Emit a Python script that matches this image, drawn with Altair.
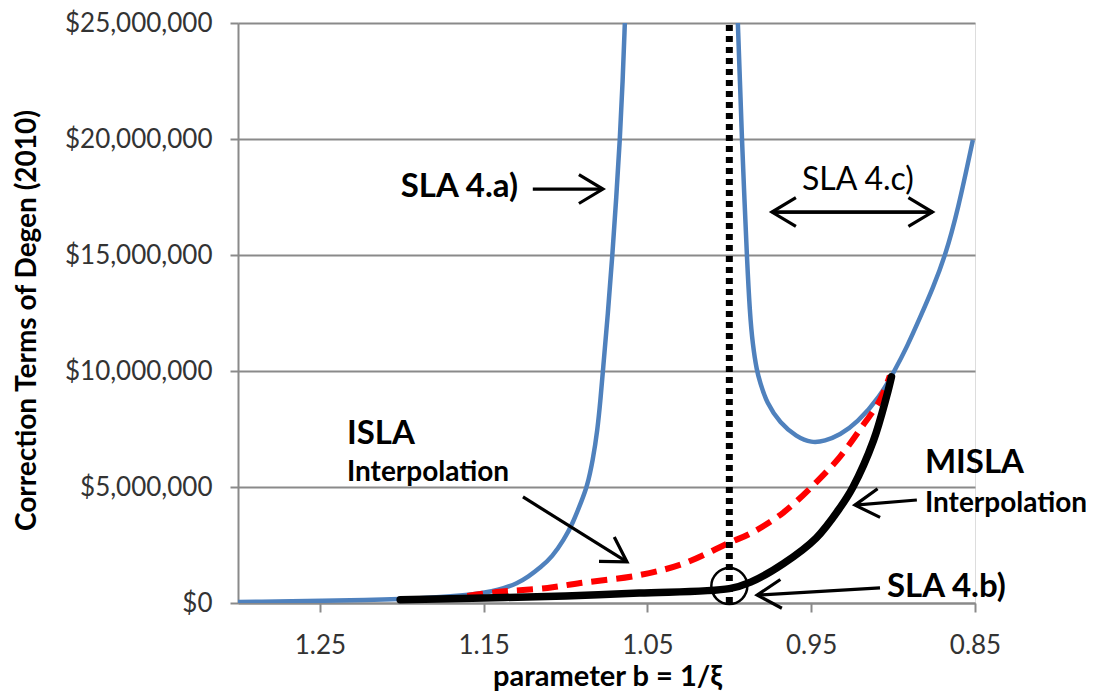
import altair as alt
import pandas as pd

M = 1_000_000

# ---- data (x = parameter b, y = correction term in $ millions) ----
sla4a_b = [1.300, 1.2133, 1.1828, 1.1584, 1.1400, 1.1291, 1.1230, 1.1150, 1.1083, 1.1010,
           1.0955, 1.0900, 1.0869, 1.0833, 1.0805, 1.0787, 1.0772, 1.0741, 1.0714, 1.0690,
           1.0668, 1.0651, 1.0638]
sla4a_v = [0.04, 0.13, 0.22, 0.34, 0.56, 0.86, 1.12, 1.55, 1.98, 2.72,
           3.45, 4.44, 5.00, 6.16, 7.46, 8.75, 10.0, 12.5, 15.0, 17.5,
           20.0, 22.5, 25.0]

sla4c_b = [0.9948, 0.9935, 0.9923, 0.9908, 0.9893, 0.9875, 0.9857, 0.9832, 0.9813, 0.9772,
           0.9691, 0.9589, 0.9498, 0.9417, 0.9325, 0.9221, 0.9081, 0.8989, 0.8916, 0.8837,
           0.8757, 0.8684, 0.8604, 0.8513]
sla4c_v = [25.0, 22.46, 19.96, 17.46, 14.96, 12.5, 11.12, 10.0, 9.53, 8.62,
           7.76, 7.16, 6.90, 6.98, 7.24, 7.76, 8.88, 10.04, 11.03, 12.28,
           13.58, 14.91, 16.94, 19.96]

isla_b = [1.160, 1.142, 1.111, 1.091, 1.055, 1.028, 1.000, 0.987, 0.967, 0.947, 0.9325,
          0.920, 0.908, 0.902]
isla_v = [0.30, 0.47, 0.65, 0.86, 1.20, 1.70, 2.60, 3.00, 3.90, 5.20, 6.30,
          7.50, 8.75, 9.80]

misla_b = [1.201, 1.150, 1.100, 1.055, 1.000, 0.987, 0.967, 0.947, 0.9325, 0.9245,
           0.912, 0.904, 0.901]
misla_v = [0.14, 0.22, 0.30, 0.43, 0.62, 0.90, 1.70, 2.80, 4.10, 5.00,
           7.00, 8.90, 9.75]

x_ticks = [1.25, 1.15, 1.05, 0.95, 0.85]
y_ticks = [0, 5, 10, 15, 20, 25]

# annotations (data coordinates)
bold_text = ["SLA 4.a)", "ISLA", "MISLA", "SLA 4.b)"]
bold_b = [1.129, 1.2335, 0.8806, 0.9038]
bold_v = [17.5, 6.85, 5.60, 0.26]
bold_align = ["right", "left", "left", "left"]

interp_text = ["Interpolation", "Interpolation"]
interp_b = [1.2335, 0.8806]
interp_v = [5.26, 3.92]

plain_text = ["SLA 4.c)"]
plain_b = [0.9215]
plain_v = [17.8]

# arrows: tail -> tip
arrow_b1 = [1.120, 0.974, 0.876, 1.126, 0.8855, 0.908]
arrow_v1 = [17.84, 16.85, 16.85, 4.57, 4.44, 0.65]
arrow_b2 = [1.0772, 0.876, 0.974, 1.0625, 0.9233, 0.983]
arrow_v2 = [17.84, 16.85, 16.85, 1.77, 4.22, 0.34]
arrow_angle = [0, 0, 180, 32, 175, 177]

circle_b = [1.0]
circle_v = [0.73]
asym_b = [1.0]

# ---- frames ----
def frame(b, v):
    return pd.DataFrame({"b": b, "v": [x * M for x in v]})

df4a = frame(sla4a_b, sla4a_v)
df4c = frame(sla4c_b, sla4c_v)
dfisla = frame(isla_b, isla_v)
dfmisla = frame(misla_b, misla_v)

df_bold = pd.DataFrame({"b": bold_b, "v": [x * M for x in bold_v], "t": bold_text, "al": bold_align})
df_interp = pd.DataFrame({"b": interp_b, "v": [x * M for x in interp_v], "t": interp_text})
df_plain = pd.DataFrame({"b": plain_b, "v": [x * M for x in plain_v], "t": plain_text})
df_arrow = pd.DataFrame({"b": arrow_b1, "v": [x * M for x in arrow_v1],
                         "b2": arrow_b2, "v2": [x * M for x in arrow_v2],
                         "ang": arrow_angle})
df_circle = frame(circle_b, circle_v)
df_asym = pd.DataFrame({"b": asym_b, "v": [0.0], "v2": [25 * M]})

FONT = "Lato"
GRID = "#8a8a8a"
LABEL = "#333333"

xscale = alt.Scale(domain=[0.85, 1.30], reverse=True, nice=False, zero=False)
yscale = alt.Scale(domain=[0, 25 * M], nice=False)

X = alt.X("b:Q", scale=xscale,
          axis=alt.Axis(values=x_ticks, format=".2f", grid=False, title="parameter b = 1/ξ",
                        labelFont=FONT, labelFontSize=26, labelColor=LABEL,
                        labelBaseline="alphabetic", labelPadding=41, labelFlush=False,
                        tickSize=9, tickColor=GRID, tickWidth=2,
                        domainColor=GRID, domainWidth=2,
                        titleFont=FONT, titleFontSize=29, titleFontWeight="bold", titleColor="black",
                        titleX=369, titleY=82, titleBaseline="alphabetic", titleAlign="center"))
Y = alt.Y("v:Q", scale=yscale,
          axis=alt.Axis(values=[t * M for t in y_ticks], format="$,.0f", grid=True,
                        gridColor=GRID, gridWidth=2,
                        title="Correction Terms of Degen (2010)",
                        labelFont=FONT, labelFontSize=26, labelColor=LABEL,
                        labelPadding=18, labelFlush=False,
                        tickSize=8, tickColor=GRID, tickWidth=2,
                        domainColor=GRID, domainWidth=2,
                        titleFont=FONT, titleFontSize=28, titleFontWeight="bold", titleColor="black",
                        titleX=-211, titleY=297, titleAngle=270,
                        titleBaseline="middle", titleAlign="center"))

BLUE = "#4f81bd"

l4a = alt.Chart(df4a).mark_line(color=BLUE, strokeWidth=4.5, clip=True, interpolate="basis").encode(x=X, y=Y)
l4c = alt.Chart(df4c).mark_line(color=BLUE, strokeWidth=4.5, clip=True, interpolate="basis").encode(x=X, y=Y)
lisla = alt.Chart(dfisla).mark_line(color="#ff0000", strokeWidth=6, strokeDash=[16, 9],
                                    interpolate="catmull-rom").encode(x=X, y=Y)
lmisla = alt.Chart(dfmisla).mark_line(color="black", strokeWidth=7.5, strokeCap="round",
                                      interpolate="catmull-rom").encode(x=X, y=Y)
asym = alt.Chart(df_asym).mark_rule(color="black", strokeWidth=7, strokeDash=[6, 5]).encode(
    x=X, y=Y, y2="v2:Q")
circ = alt.Chart(df_circle).mark_point(shape="circle", filled=False, color="black",
                                       strokeWidth=2.5, size=1296, opacity=1).encode(x=X, y=Y)
shafts = alt.Chart(df_arrow).mark_rule(color="black", strokeWidth=3.2).encode(
    x=X, y=Y, x2="b2:Q", y2="v2:Q")
heads = alt.Chart(df_arrow).mark_point(shape="M-1,-0.6L0,0L-1,0.6", filled=False, color="black",
                                       strokeWidth=3.2, size=2300, opacity=1).encode(
    x=alt.X("b2:Q", scale=xscale), y=alt.Y("v2:Q", scale=yscale),
    angle=alt.Angle("ang:Q", scale=None))

t_bold_r = alt.Chart(df_bold[df_bold.al == "right"]).mark_text(
    font=FONT, fontSize=33, fontWeight="bold", align="right", baseline="alphabetic", color="black"
).encode(x=X, y=Y, text="t:N")
t_bold_l = alt.Chart(df_bold[df_bold.al == "left"]).mark_text(
    font=FONT, fontSize=33, fontWeight="bold", align="left", baseline="alphabetic", color="black"
).encode(x=X, y=Y, text="t:N")
t_interp = alt.Chart(df_interp).mark_text(
    font=FONT, fontSize=28, fontWeight="bold", align="left", baseline="alphabetic", color="black"
).encode(x=X, y=Y, text="t:N")
t_plain = alt.Chart(df_plain).mark_text(
    font=FONT, fontSize=32, align="center", baseline="alphabetic", color="black"
).encode(x=X, y=Y, text="t:N")

chart = alt.layer(
    l4a, l4c, lisla, lmisla, asym, circ, shafts, heads, t_bold_r, t_bold_l, t_interp, t_plain
).properties(
    width=737, height=580,
    autosize=alt.AutoSizeParams(type="none"),
    padding={"left": 230, "top": 15, "right": 111, "bottom": 92},
).configure_view(stroke=None).configure(font=FONT)

chart.save("out.html", embed_options={"renderer": "svg", "actions": False})
